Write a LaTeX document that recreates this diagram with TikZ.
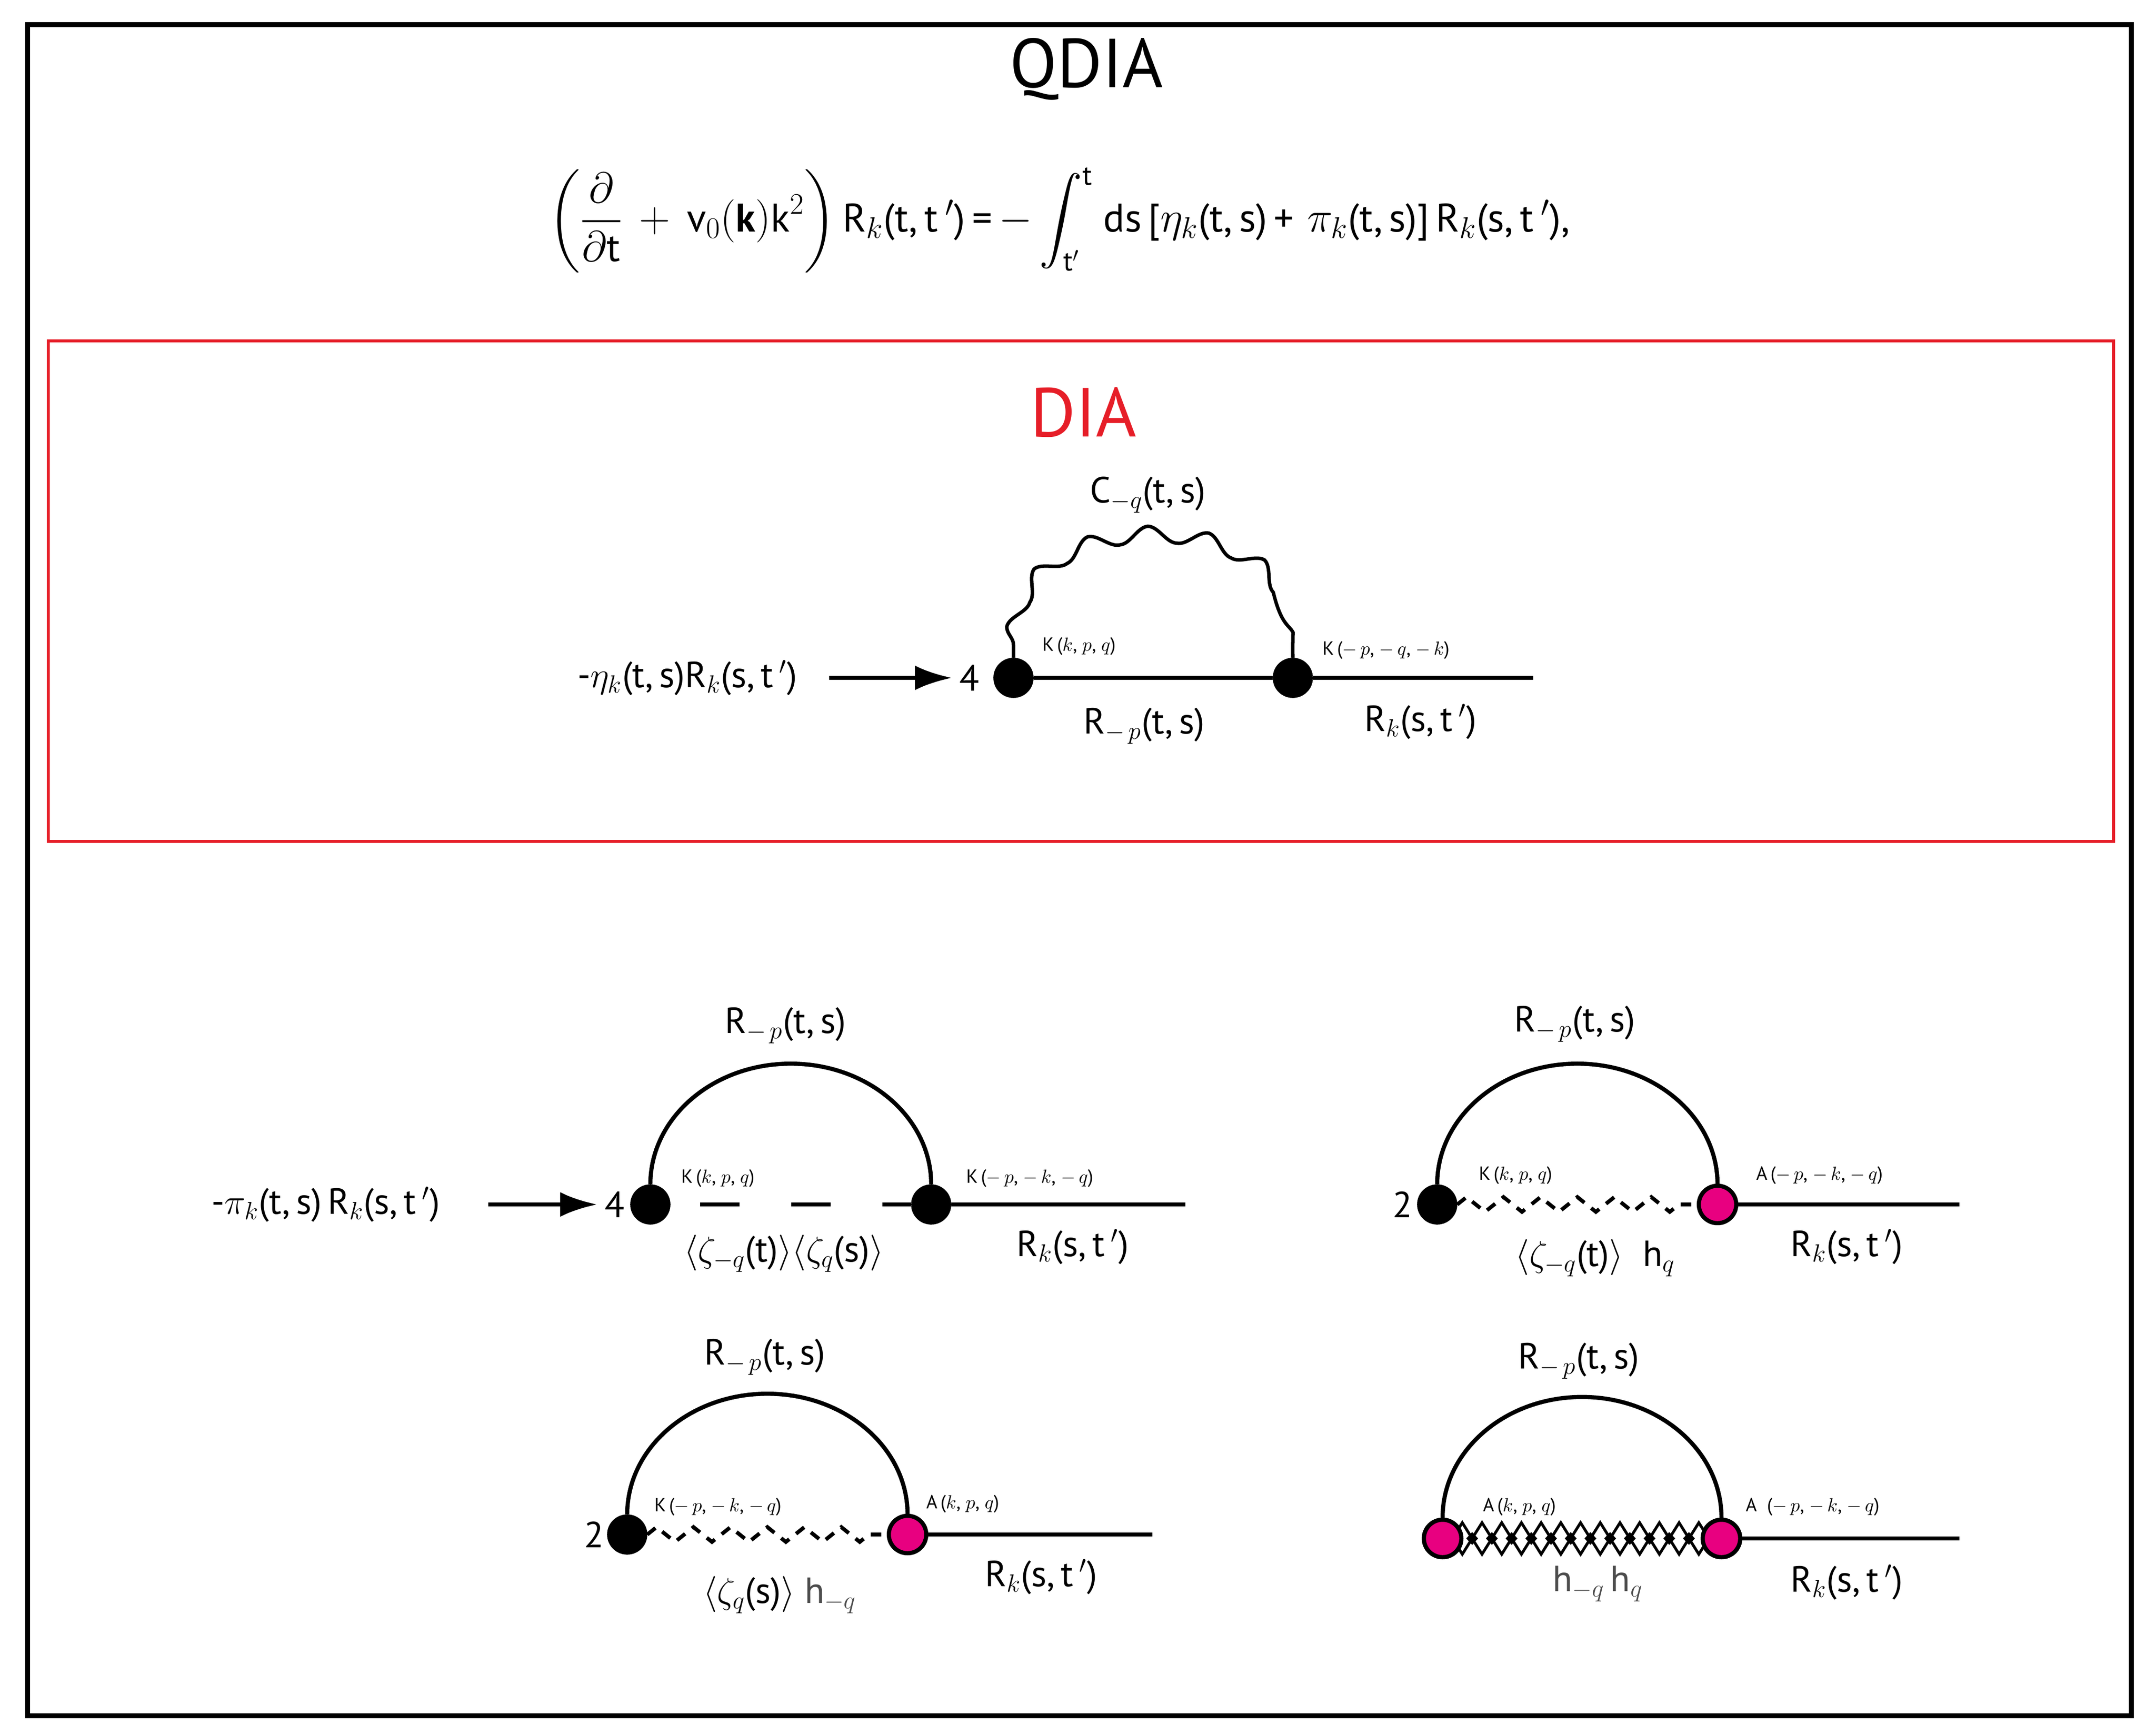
\documentclass[tikz,border=0pt]{standalone}
\usepackage{fontspec}
\setmainfont{PT Sans}
\usepackage{amsmath}
\usetikzlibrary{decorations.pathmorphing,arrows.meta,calc}
\definecolor{dred}{RGB}{230,30,40}
\definecolor{pink}{RGB}{232,0,128}
\begin{document}
\begin{tikzpicture}[x=1cm,y=-1cm,
  bv/.style={circle,fill=black,draw=black,line width=1.6pt,minimum size=0.76cm,inner sep=0pt},
  pv/.style={circle,fill=pink,draw=black,line width=2.4pt,minimum size=0.76cm,inner sep=0pt},
  ln/.style={line width=2.4pt},
  lab/.style={font=\fontsize{21}{24}\selectfont,inner sep=0pt},
  sm/.style={font=\fontsize{11}{12}\selectfont,inner sep=0pt},
  zz/.style={line width=2.2pt,dash pattern=on 6pt off 5pt,decorate,decoration={zigzag,segment length=0.75cm,amplitude=0.15cm}},
  arr/.style={line width=2.4pt,shorten >=0.15cm,-{Latex[length=0.75cm,width=0.5cm]}}]
\useasboundingbox (0,0) rectangle (43.76,35.22);
\draw[line width=2.6pt] (0.56,0.5) rectangle (43.26,34.83);
\node[font=\fontsize{40}{44}\selectfont] (qdia) at (22.05,1.4) {QDIA};
\node[font=\fontsize{23}{26}\selectfont] (eq) at (21.5,4.47) {$\displaystyle\left(\frac{\partial}{\partial \mathrm{t}}\,+\,\mathrm{v}_0(\mathbf{k})\mathrm{k}^2\right)$\,R$_{k}$(t,\,t$\,'$)\,=\,$-\displaystyle\int_{\mathrm{t}'}^{\mathrm{t}}$\ ds\,[$\eta_k$(t,\,s)\,+\,\,$\pi_k$(t,\,s)]\,R$_{k}$(s,\,t$\,'$),};
% DIA box
\draw[dred,line width=1.6pt] (0.98,6.92) rectangle (42.9,17.08);
\node[dred,font=\fontsize{40}{44}\selectfont] (dia) at (21.99,8.37) {DIA};
\node[bv] (a1) at (20.57,13.76) {};
\node[bv] (a2) at (26.24,13.76) {};
\coordinate (a3) at (31.12,13.76);
\draw[ln] (a1) -- (a2) -- (a3);
\draw[line width=2pt,decorate,decoration={snake,segment length=1.2cm,amplitude=0.16cm,pre length=0.25cm,post length=0.25cm}] (a1.north) .. controls (20.4,10.4) and (26.4,10.4) .. (a2.north);
\node[lab] (c) at (23.3,10.05) {C$_{-q}$(t,\,s)};
\node[sm] at (21.9,13.12) {K\,($k$,\ $p$,\ $q$)};
\node[sm] at (28.13,13.2) {K\,($-\,p$,\ $-\,q$,\ $-\,k$)};
\node[lab] (n4a) at (19.68,13.76) {4};
\node[lab] at (23.22,14.74) {R$_{-\,p}$(t,\,s)};
\node[lab] at (28.83,14.65) {R$_{k}$(s,\,t$\,'$)};
\node[lab] (etal) at (13.95,13.76) {-$\eta_k$(t,\,s)R$_{k}$(s,\,t$\,'$)};
\coordinate (e1) at (16.83,13.76);
\draw[arr] (e1) -- (n4a.west);
% diagram 1
\node[bv] (b1) at (13.2,24.45) {};
\node[bv] (b2) at (18.9,24.45) {};
\coordinate (b3) at (24.06,24.45);
\draw[ln] (b2) -- (b3);
\draw[ln] (b1.north) arc[start angle=180,end angle=0,x radius=2.85cm,y radius=2.45cm];
\draw[ln,dash pattern=on 0.8cm off 1.05cm,dash phase=-0.6cm] (b1) -- (b2);
\node[lab] at (15.94,20.82) {R$_{-\,p}$(t,\,s)};
\node[sm] at (14.57,23.92) {K\,($k$,\ $p$,\ $q$)};
\node[sm] at (20.9,23.92) {K\,($-\,p$,\ $-\,k$,\ $-\,q$)};
\node[lab] (n4b) at (12.48,24.45) {4};
\node[lab] at (15.91,25.45) {$\langle\zeta_{-q}$(t)$\rangle\langle\zeta_q$(s)$\rangle$};
\node[lab] at (21.77,25.31) {R$_{k}$(s,\,t$\,'$)};
\node[lab] (pil) at (6.61,24.45) {-$\pi_k$(t,\,s)\,R$_{k}$(s,\,t$\,'$)};
\coordinate (p1) at (9.91,24.45);
\draw[arr] (p1) -- (n4b.west);
% diagram 2
\node[bv] (c1) at (29.17,24.45) {};
\node[pv] (c2) at (34.86,24.45) {};
\coordinate (c3) at (39.77,24.45);
\draw[ln] (c2) -- (c3);
\draw[ln] (c1.north) arc[start angle=180,end angle=0,x radius=2.845cm,y radius=2.45cm];
\draw[zz] (c1.east) -- (c2.west);
\node[lab] at (31.96,20.79) {R$_{-\,p}$(t,\,s)};
\node[sm] at (30.76,23.86) {K\,($k$,\ $p$,\ $q$)};
\node[sm] at (36.93,23.86) {A\,($-\,p$,\ $-\,k$,\ $-\,q$)};
\node[lab] at (28.47,24.45) {2};
\node[lab] at (32.38,25.54) {$\langle\zeta_{-q}$(t)$\rangle$\ \ h$_q$};
\node[lab] at (37.48,25.31) {R$_{k}$(s,\,t$\,'$)};
% diagram 3
\node[bv] (d1) at (12.73,31.15) {};
\node[pv] (d2) at (18.42,31.15) {};
\coordinate (d3) at (23.39,31.15);
\draw[ln] (d2) -- (d3);
\draw[ln] (d1.north) arc[start angle=180,end angle=0,x radius=2.845cm,y radius=2.45cm];
\draw[zz] (d1.east) -- (d2.west);
\node[lab] at (15.52,27.55) {R$_{-\,p}$(t,\,s)};
\node[sm] at (14.57,30.59) {K\,($-\,p$,\ $-\,k$,\ $-\,q$)};
\node[sm] at (19.54,30.53) {A\,($k$,\ $p$,\ $q$)};
\node[lab] at (12.06,31.15) {2};
\node[lab] at (15.83,32.38) {$\langle\zeta_q$(s)$\rangle$\ {\color{black!70}h$_{-q}$}};
\node[lab] at (21.13,32.01) {R$_{k}$(s,\,t$\,'$)};
% diagram 4
\node[pv] (f1) at (29.28,31.23) {};
\node[pv] (f2) at (34.94,31.23) {};
\coordinate (f3) at (39.77,31.23);
\draw[ln] (f2) -- (f3);
\draw[ln] (f1.north) arc[start angle=180,end angle=0,x radius=2.83cm,y radius=2.45cm];
\begin{scope}
\clip ($(f1.center)+(0,-0.45)$) rectangle ($(f2.center)+(0,0.45)$);
\draw[line width=1.6pt,decorate,decoration={zigzag,segment length=0.8cm,amplitude=0.32cm}] ($(f1.center)+(-0.2,0)$) -- ($(f2.center)+(0.2,0)$);
\draw[line width=1.6pt,decorate,decoration={zigzag,segment length=0.8cm,amplitude=-0.32cm}] ($(f1.center)+(-0.2,0)$) -- ($(f2.center)+(0.2,0)$);
\foreach \i in {1,...,13} {
  \fill ($(f1.center)+(0.4*\i-0.2,0)$) +(0,-0.13) -- +(0.12,0) -- +(0,0.13) -- +(-0.12,0) -- cycle;
}
\end{scope}
\node[pv] at (f1) {};
\node[pv] at (f2) {};
\node[lab] at (32.04,27.63) {R$_{-\,p}$(t,\,s)};
\node[sm] at (30.84,30.59) {A\,($k$,\ $p$,\ $q$)};
\node[sm] at (36.79,30.59) {A\ \ ($-\,p$,\ $-\,k$,\ $-\,q$)};
\node[lab,black!70] at (32.43,32.15) {h$_{-q}$\,h$_q$};
\node[lab] at (37.48,32.12) {R$_{k}$(s,\,t$\,'$)};
\end{tikzpicture}
\end{document}
